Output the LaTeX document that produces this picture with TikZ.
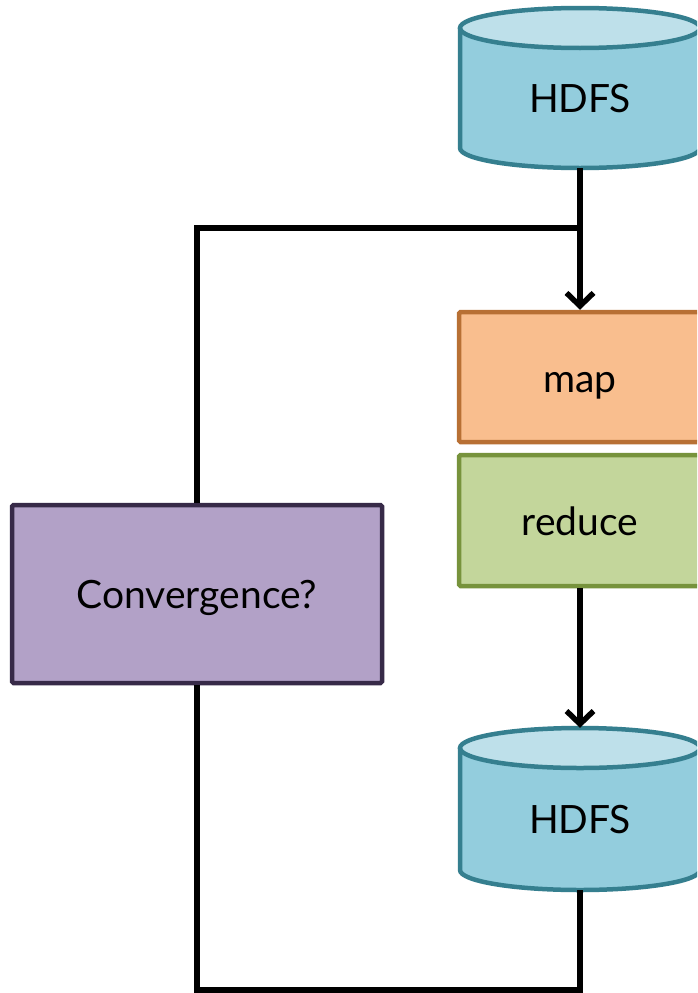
\documentclass[tikz,border=0pt]{standalone}
\usepackage{fontspec}
\setmainfont{Lato}
\usetikzlibrary{arrows.meta}
\definecolor{cylbody}{RGB}{147,205,221}
\definecolor{cyltop}{RGB}{190,224,234}
\definecolor{cylline}{RGB}{53,127,143}
\definecolor{mapfill}{RGB}{249,190,142}
\definecolor{mapline}{RGB}{184,112,52}
\definecolor{redfill}{RGB}{195,214,155}
\definecolor{redline}{RGB}{119,147,60}
\definecolor{convfill}{RGB}{178,161,199}
\definecolor{convline}{RGB}{55,42,72}
\begin{document}
\begin{tikzpicture}[x=1pt,y=1pt,
  lbl/.style={font=\fontsize{39}{45}\selectfont, inner sep=0pt, anchor=base},
  frame/.style={minimum width=240pt, minimum height=160pt, inner sep=0pt, draw=none},
  procbox/.style={line width=4.5pt, rounded corners=1.5pt, inner sep=0pt},
  conn/.style={line width=5.5pt, line join=miter},
  tip/.style={-{Straight Barb[length=13pt,width=27pt]}}
]
\useasboundingbox (0,0) rectangle (697,-993);
\clip (0,0) rectangle (697,-993);
\fill[white] (0,0) rectangle (697,-993);

% top cylinder
\fill[cylbody] (460,-28) -- (460,-148) arc[start angle=180,end angle=360,x radius=120,y radius=20] -- (700,-28) -- cycle;
\filldraw[fill=cyltop, draw=cylline, line width=4.5pt] (580,-28) ellipse[x radius=120, y radius=20];
\draw[cylline, line width=4.5pt] (460,-28) -- (460,-148) arc[start angle=180,end angle=360,x radius=120,y radius=20] -- (700,-28);
\node[frame] (h1) at (580,-88) {};
\node[lbl] (h1t) at (580,-112) {HDFS};

% bottom cylinder
\fill[cylbody] (460,-748) -- (460,-870) arc[start angle=180,end angle=360,x radius=120,y radius=20] -- (700,-748) -- cycle;
\filldraw[fill=cyltop, draw=cylline, line width=4.5pt] (580,-748) ellipse[x radius=120, y radius=20];
\draw[cylline, line width=4.5pt] (460,-748) -- (460,-870) arc[start angle=180,end angle=360,x radius=120,y radius=20] -- (700,-748);
\node[frame, minimum height=162pt] (h2) at (580,-809) {};
\node[lbl] (h2t) at (580,-833) {HDFS};

% boxes
\node[procbox, draw=mapline, fill=mapfill, minimum width=242pt, minimum height=130pt] (map) at (580,-377) {};
\node[lbl] (mapt) at (580,-392) {map};
\node[procbox, draw=redline, fill=redfill, minimum width=242pt, minimum height=131pt] (reduce) at (580,-520.5) {};
\node[lbl] (reducet) at (580,-535) {reduce};
\node[procbox, draw=convline, fill=convfill, minimum width=370pt, minimum height=178pt] (conv) at (197,-594) {};
\node[lbl] (convt) at (197,-608) {Convergence?};

% connectors
\coordinate (jn) at (580,-228);
\coordinate (bc) at (580,-990);
\draw[conn, tip] (h1.south) -- (map.north);
\draw[conn, tip] (reduce.south) -- (h2.north);
\draw[conn] (conv.north) |- (jn);
\draw[conn] (h2.south) -- (bc) -| (conv.south);
\end{tikzpicture}
\end{document}
